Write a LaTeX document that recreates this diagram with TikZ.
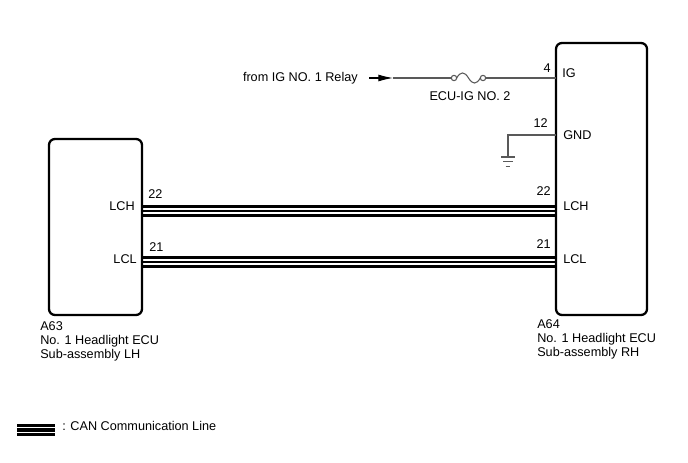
\documentclass[tikz,border=0pt]{standalone}
\usepackage{fontspec}
\setmainfont{Liberation Sans}
\usepackage{tikz}
\usetikzlibrary{arrows.meta}
\usepackage{tkz-euclide}
\tikzset{ecu box/.style = {%
  draw = black,
  line width = 1.7pt,
  rounded corners = 4.5pt
 },
 wire/.style = {
  draw = black!65,
  line width = 0.8pt
 },
 can outer/.style = {
  draw = black,
  line width = 2.3pt
 },
 can inner/.style = {
  draw = black,
  line width = 1.4pt
 },
 lbl/.style = {
  inner sep = 0pt,
  font = \fontsize{9.5}{10.7}\selectfont
 },
 caption/.style = {
  lbl,
  align = left,
  anchor = north west
 }
}

\begin{document}
\begin{tikzpicture}[x=0.75pt,y=-0.75pt]
      \useasboundingbox (0,0) rectangle (688,463);

      % ECU boxes
      \tkzDefPoint(49,139){BL1}
      \tkzDefPoint(142,315){BL2}
      \tkzDefPoint(556,43){BR1}
      \tkzDefPoint(647,315){BR2}
      \draw[ecu box] (BL1) rectangle (BL2);
      \draw[ecu box] (BR1) rectangle (BR2);

      % IG supply through fuse
      \tkzDefPoint(369,78){IG0}
      \tkzDefPoint(393,78){IG1}
      \tkzDefPoint(454,78){F1}
      \tkzDefPoint(483,78){F2}
      \tkzDefPoint(556,78){IG2}
      \draw[black,line width=0.8pt,-{Latex[length=11pt,width=5.2pt]}] (IG0) -- (IG1);
      \draw[wire] (IG1) -- ([xshift=-2pt]F1);
      \draw[wire] ([xshift=2pt]F2) -- (IG2);
      \draw[wire] ([xshift=2pt]F1) .. controls (460.5,71.3) and (464.5,71.3) .. (468.5,78)
                  .. controls (472.5,84.7) and (476.5,84.7) .. ([xshift=-2pt]F2);
      \draw[wire,fill=white] (F1) circle (2pt);
      \draw[wire,fill=white] (F2) circle (2pt);

      % ground
      \tkzDefPoint(556,135){G1}
      \tkzDefPoint(508,135){G2}
      \tkzDefPoint(508,157){G3}
      \draw[wire] (G1) -- (G2) -- (G3);
      \draw[wire] ([xshift=-5.2pt]G3) -- ([xshift=5.2pt]G3);
      \draw[wire] ([xshift=-3.5pt,yshift=-3.7pt]G3) -- ([xshift=3.5pt,yshift=-3.7pt]G3);
      \draw[wire] ([xshift=-1.8pt,yshift=-7.4pt]G3) -- ([xshift=1.8pt,yshift=-7.4pt]G3);

      % CAN lines
      \tkzDefPoint(142,211){H1}
      \tkzDefPoint(556,211){H2}
      \tkzDefPoint(142,262){L1}
      \tkzDefPoint(556,262){L2}
      \draw[can outer] ([yshift=3.7pt]H1) -- ([yshift=3.7pt]H2);
      \draw[can inner] (H1) -- (H2);
      \draw[can outer] ([yshift=-3.7pt]H1) -- ([yshift=-3.7pt]H2);
      \draw[can outer] ([yshift=3.7pt]L1) -- ([yshift=3.7pt]L2);
      \draw[can inner] (L1) -- (L2);
      \draw[can outer] ([yshift=-3.7pt]L1) -- ([yshift=-3.7pt]L2);

      % labels
      \node[lbl,anchor=base east] (relay) at (358,82) {from IG NO. 1 Relay};
      \node[lbl,anchor=base] (fuse) at (470,101) {ECU-IG NO. 2};
      \node[lbl,anchor=base east] (p4) at (551,73) {4};
      \node[lbl,anchor=base west] (ig) at (562,78) {IG};
      \node[lbl,anchor=base east] (p12) at (548,128) {12};
      \node[lbl,anchor=base west] (gnd) at (563,140) {GND};

      \node[lbl,anchor=base west] (p22l) at (148,199) {22};
      \node[lbl,anchor=base east] (lchl) at (135,211) {LCH};
      \node[lbl,anchor=base west] (p21l) at (149,251) {21};
      \node[lbl,anchor=base east] (lcll) at (137,263) {LCL};

      \node[lbl,anchor=base east] (p22r) at (551,196) {22};
      \node[lbl,anchor=base west] (lchr) at (563,211) {LCH};
      \node[lbl,anchor=base east] (p21r) at (551,248) {21};
      \node[lbl,anchor=base west] (lclr) at (563,263) {LCL};

      \node[caption] (capl) at (40,321) {A63\\No. 1 Headlight ECU\\Sub-assembly LH};
      \node[caption] (capr) at (537,319) {A64\\No. 1 Headlight ECU\\Sub-assembly RH};

      % legend
      \tkzDefPoint(17,430){K1}
      \tkzDefPoint(55,430){K2}
      \draw[can outer] ([yshift=3.7pt]K1) -- ([yshift=3.7pt]K2);
      \draw[can outer] (K1) -- (K2);
      \draw[can outer] ([yshift=-3.7pt]K1) -- ([yshift=-3.7pt]K2);
      \node[lbl,anchor=base west] (legend) at (62,430) {: CAN Communication Line};
     \end{tikzpicture}
\end{document}
